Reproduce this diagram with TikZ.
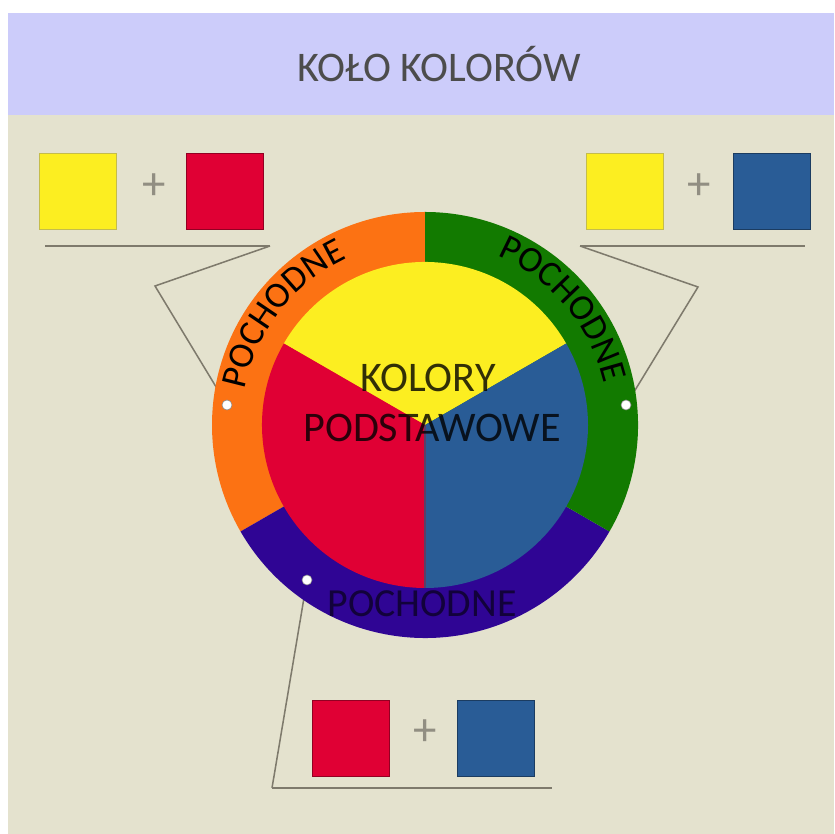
\documentclass[tikz,border=0pt]{standalone}
\usepackage{fontspec}
\setmainfont{Carlito}
\usetikzlibrary{decorations.text}
\definecolor{headbg}{HTML}{CCCCFA}
\definecolor{pagebg}{HTML}{E4E2CE}
\definecolor{kyellow}{HTML}{FCEE21}
\definecolor{kred}{HTML}{E00034}
\definecolor{kblue}{HTML}{295C96}
\definecolor{korange}{HTML}{FC7213}
\definecolor{kgreen}{HTML}{127A00}
\definecolor{kpurple}{HTML}{2F0594}
\definecolor{callgray}{HTML}{7E7A6C}
\definecolor{kdivide}{HTML}{5A3F68}
\begin{document}
\begin{tikzpicture}[x=0.3mm, y=0.3mm,
	swatch/.style={minimum width=23.1mm, minimum height=22.8mm, inner sep=0pt, line width=0.6pt},
	plus/.style={text=callgray!85, font=\fontsize{40}{40}\selectfont, inner sep=0pt},
	dot/.style={circle, fill=white, draw=black!45, line width=0.5pt, minimum size=3mm, inner sep=0pt},
	callout/.style={callgray, line width=1.3pt},
	underline/.style={callgray, line width=2.5pt},
	bigtext/.style={anchor=base, inner sep=0pt, font=\fontsize{36}{36}\selectfont},
	ringtext/.style={decorate, decoration={text along path, text align=center, text={|\fontsize{31}{31}\selectfont|POCHODNE}}}]
		\useasboundingbox (0,0) rectangle (834,834);
		\fill[white] (0,0) rectangle (834,834);
		\fill[pagebg] (8,0) rectangle (834,719);
		\fill[headbg] (8,719) rectangle (834,821);
		\node[bigtext, text=black!70] (title) at (439,752) {KOŁO KOLORÓW};
		
		\node[swatch, fill=kyellow, draw=kyellow!55!gray] (yellowA) at (77.5,643) {};
		\node[plus] (plusA) at (154,647) {+};
		\node[swatch, fill=kred, draw=kred!65!black] (redA) at (225,643) {};
		\node[swatch, fill=kyellow, draw=kyellow!55!gray] (yellowB) at (625,643) {};
		\node[plus] (plusB) at (699,647) {+};
		\node[swatch, fill=kblue, draw=kblue!65!black] (blueB) at (772,643) {};
		\node[swatch, fill=kred, draw=kred!65!black] (redC) at (350.5,96) {};
		\node[plus] (plusC) at (425,101) {+};
		\node[swatch, fill=kblue, draw=kblue!65!black] (blueC) at (495.5,96) {};
		
		\coordinate (lineA1) at (45,588);
		\coordinate (lineA2) at (270,588);
		\coordinate (lineB1) at (580,588);
		\coordinate (lineB2) at (805,588);
		\coordinate (lineC1) at (272,46);
		\coordinate (lineC2) at (552,46);
		\coordinate (bendA) at (155,548);
		\coordinate (bendB) at (698,547);
		\coordinate (tipA) at (227,429);
		\coordinate (tipB) at (626,429);
		\coordinate (tipC) at (307,254);
		\draw[underline] (lineA1) -- (lineA2);
		\draw[underline] (lineB1) -- (lineB2);
		\draw[underline] (lineC1) -- (lineC2);
		\draw[callout] (lineA2) -- (bendA) -- (tipA);
		\draw[callout] (lineB1) -- (bendB) -- (tipB);
		\draw[callout] (lineC1) -- (tipC);
		
		\coordinate (wc) at (425,409);
		\fill[korange] (wc) -- ++(90:213) arc[start angle=90, end angle=210, radius=213] -- cycle;
		\fill[kpurple] (wc) -- ++(210:213) arc[start angle=210, end angle=330, radius=213] -- cycle;
		\fill[kgreen] (wc) -- ++(330:213) arc[start angle=330, end angle=450, radius=213] -- cycle;
		\fill[kyellow] (wc) -- ++(30:163) arc[start angle=30, end angle=150, radius=163] -- cycle;
		\fill[kred] (wc) -- ++(150:163) arc[start angle=150, end angle=270, radius=163] -- cycle;
		\fill[kblue] (wc) -- ++(270:163) arc[start angle=270, end angle=390, radius=163] -- cycle;
		\draw[kdivide, line width=1.3pt] (wc) -- ++(270:163);
		
		\path[ringtext] ([shift={(180:184)}]wc) arc[start angle=180, end angle=104, radius=184];
		\path[ringtext] ([shift={(78:184)}]wc) arc[start angle=78, end angle=2, radius=184];
		\node[bigtext, text=black, text opacity=0.6, font=\fontsize{34}{34}\selectfont] (derivedC) at (422,217) {POCHODNE};
		\node[bigtext, text=black, text opacity=0.8] (primary1) at (428,442) {KOLORY};
		\node[bigtext, text=black, text opacity=0.8] (primary2) at (432,392) {PODSTAWOWE};
		
		\node[dot] (dotA) at (tipA) {};
		\node[dot] (dotB) at (tipB) {};
		\node[dot] (dotC) at (tipC) {};
\end{tikzpicture}
\end{document}
